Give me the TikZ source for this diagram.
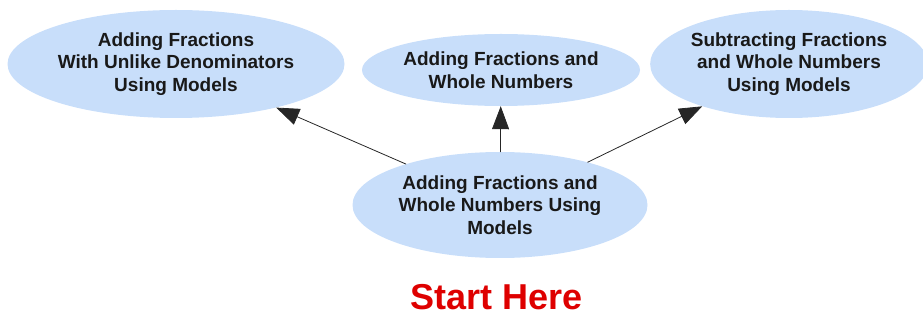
\documentclass[tikz,border=0pt]{standalone}
\usepackage{fontspec}
\setmainfont{Liberation Sans}
\usetikzlibrary{shapes.geometric,arrows.meta}
\definecolor{bubble}{RGB}{200,222,250}
\definecolor{starred}{RGB}{222,0,0}
\begin{document}
\begin{tikzpicture}[x=1pt,y=-1pt,line cap=round,line join=round,
    topic/.style={ellipse,fill=bubble,inner sep=0pt,align=center,text=black!90,
      font=\fontsize{19}{22.5}\selectfont\bfseries},
    link/.style={draw=black!85,line width=0.8pt,-{Triangle[length=23pt,width=17pt]}}]
		\useasboundingbox (0,0) rectangle (923,320);
		\node[topic,minimum width=337pt,minimum height=108pt] (unlike) at (176,64)
			{Adding Fractions\\With Unlike Denominators\\Using Models};
		\node[topic,minimum width=278pt,minimum height=72pt] (whole) at (501,70)
			{Adding Fractions and\\Whole Numbers};
		\node[topic,minimum width=264pt,minimum height=108pt] (subtract) at (789,64)
			{Subtracting Fractions\\and Whole Numbers\\Using Models};
		\node[topic,minimum width=295pt,minimum height=106pt] (start) at (500,205)
			{Adding Fractions and\\Whole Numbers Using\\Models};
		\node[text=starred,font=\fontsize{36}{40}\selectfont\bfseries] (here) at (497,297) {Start Here};
		\foreach \goal in {unlike, whole, subtract}
		{
			\draw[link] (start)--(\goal);
		}
		\end{tikzpicture}
\end{document}
